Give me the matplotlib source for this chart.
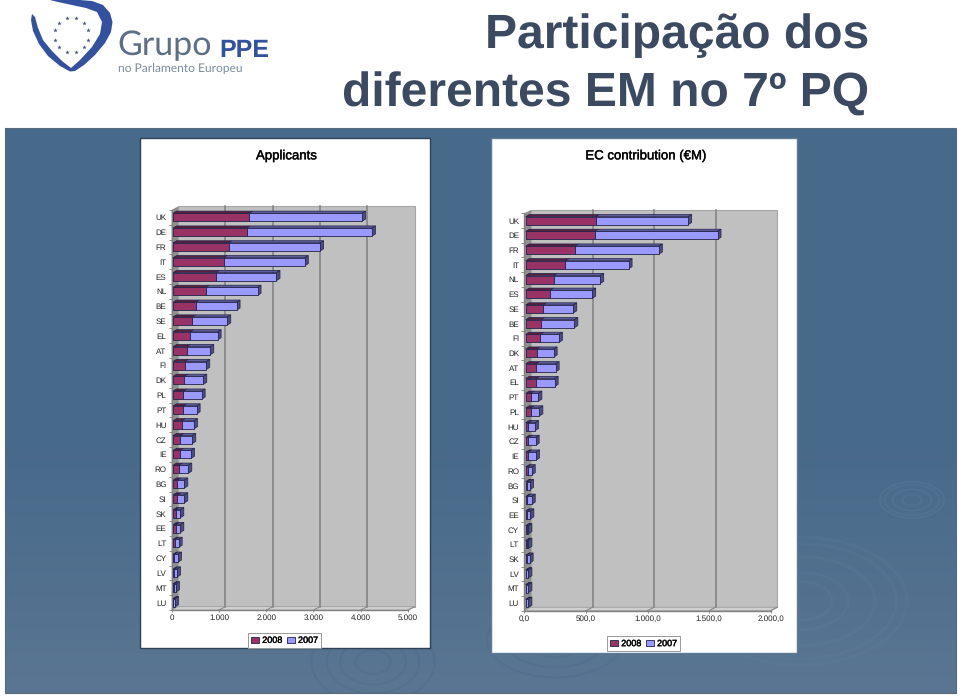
import numpy as np
import matplotlib
matplotlib.use("Agg")
import matplotlib.pyplot as plt
import matplotlib.patheffects as pe
from matplotlib.patches import Rectangle, Polygon, Arc

# ---------- data ----------
app_labels = ["UK","DE","FR","IT","ES","NL","BE","SE","EL","AT","FI","DK","PL","PT","HU","CZ","IE","RO","BG","SI","SK","EE","LT","CY","LV","MT","LU"]
app_2008 = [1613,1556,1176,1070,901,690,479,408,359,289,246,239,218,218,183,148,148,120,92,92,56,56,50,28,28,14,7]
app_2007 = [2387,2655,1937,1719,1289,1099,866,740,585,500,458,402,388,282,261,260,232,204,147,147,99,99,70,78,57,49,35]
app_ticks = [0,1000,2000,3000,4000,5000]
app_ticklabels = ["0","1.000","2.000","3.000","4.000","5.000"]

ec_labels = ["UK","DE","FR","IT","NL","ES","SE","BE","FI","DK","AT","EL","PT","PL","HU","CZ","IE","RO","BG","SI","EE","CY","LT","SK","LV","MT","LU"]
ec_2008 = [568,559,400,322,227,197,140,124,119,89,81,81,40,40,22,22,22,16,13,13,11,8,8,8,6,5,5]
ec_2007 = [751,998,681,513,378,343,246,271,151,138,162,154,63,71,54,59,62,33,22,36,27,14,14,24,16,17,17]
ec_ticks = [0,500,1000,1500,2000]
ec_ticklabels = ["0,0","500,0","1.000,0","1.500,0","2.000,0"]

W, H = 960, 696
FONT = "Liberation Sans"
plt.rcParams["font.family"] = [FONT, "DejaVu Sans"]
plt.rcParams["text.hinting"] = "no_hinting"
plt.rcParams["text.hinting_factor"] = 1
fig = plt.figure(figsize=(W/100, H/100), dpi=100, facecolor="white")
thick = [pe.withStroke(linewidth=0.3, foreground="#111111")]

# ---------- page decoration (pixel coordinates) ----------
bg = fig.add_axes([0, 0, 1, 1], zorder=0)
bg.axis("off")
t = np.linspace(0, 1, 256)
stops = np.array([[0x47, 0x69, 0x8a], [0x47, 0x69, 0x8a], [0x5a, 0x76, 0x92]], float)
img = np.stack([np.interp(t, [0, 0.55, 1], stops[:, k]) for k in range(3)], axis=1)[:, None, :].astype(np.uint8)
bg.imshow(img, extent=[5, 956, 693, 128], aspect="auto", zorder=0)
bg.set_xlim(0, W); bg.set_ylim(H, 0)
panel = Rectangle((5, 128), 951, 565, fc="none", ec="#56697d", lw=0.8, zorder=0.5)
bg.add_patch(panel)

# faint ripples on the background
def ripple(cx, cy, rx, ry, radii, col="#6d8ba6", alpha=0.35, lw=1.6):
    for r in radii:
        arc = Arc((cx, cy), 2*rx*r, 2*ry*r, theta1=0, theta2=360, color=col, alpha=alpha, lw=lw, zorder=0.6)
        bg.add_patch(arc)
        arc.set_clip_path(panel)

ripple(912, 500, 32, 18, [0.3, 0.6, 0.85, 1.0], alpha=0.2, lw=1.2)
ripple(800, 601, 107, 64, [0.3, 0.45, 0.7, 0.9, 1.0], alpha=0.13, lw=2.0)
ripple(373, 662, 44, 30, [0.4, 0.75, 1.05, 1.4], col="#3f6080", alpha=0.18, lw=1.6)
ripple(555, 640, 62, 34, [0.5, 0.8, 1.1], col="#3f6080", alpha=0.16, lw=1.6)

for (x0, x1, y0, y1, edge) in [(140, 430, 138, 648, "#2e4257"), (491, 797, 138, 653, "#5f7a94")]:
    bg.add_patch(Rectangle((x0, y0), x1-x0, y1-y0, fc="white", ec=edge, lw=1.0, zorder=2))

# logo
heart = [(50,0),(62,0),(80,0),(92,1),(103,5),(110,13),(112.5,22),(111,32),(105,43),(95,55),(84,65),(75,71),(70,71.5),
         (60,66),(48,56),(39,44),(33,31),(31,20),(32,14),(35,17),(38,28),(43,40),(52,51),(62,61),(71,68),(80,60),(92,47),
         (100,34),(102,22),(97,12),(86,8),(72,5),(58,2)]
bg.add_patch(Polygon(heart, closed=True, fc="#34519f", ec="none", zorder=3))
ang = np.deg2rad(np.arange(0, 360, 30) + 15)
bg.scatter(71.5 + 17.5*np.cos(ang), 35 + 17.5*np.sin(ang), s=11, marker="*", c="#3b4f78", lw=0, zorder=3)
bg.text(117, 55, "Grupo", family="Lato", fontsize=24.5, color="#5d6f86", ha="left", va="baseline", zorder=3)
bg.text(219, 57, "PPE", family=FONT, weight="bold", fontsize=18, color="#34519f", ha="left", va="baseline", zorder=3)
bg.text(118, 71.5, "no Parlamento Europeu", family="Lato", fontsize=8.7, color="#7b8b9e", ha="left", va="baseline", zorder=3)

# slide title
bg.text(869, 48, "Participação dos", fontsize=34.3, weight="bold", color="#3b4a60", ha="right", va="baseline", zorder=3)
bg.text(869, 107, "diferentes EM no 7º PQ", fontsize=34.3, weight="bold", color="#3b4a60", ha="right", va="baseline", zorder=3)

bg.text(286, 156, "Applicants", fontsize=9.5, color="black", ha="center", va="center", zorder=3, path_effects=thick)
bg.text(645, 156, "EC contribution (€M)", fontsize=9.5, color="black", ha="center", va="center", zorder=3, path_effects=thick)


def chart(labels, v08, v07, ticks, ticklabels, x0, x1, y_first, y_last, xmax, bar_off, wall, legend_xy):
    n = len(labels)
    step = (y_last - y_first) / (n - 1)
    top, bot = y_first - step/2, y_last + step/2
    ax = fig.add_axes([x0/W, 1 - bot/H, (x1-x0)/W, (bot-top)/H], zorder=1)
    ax.patch.set_alpha(0)
    ax.set_xlim(0, xmax); ax.set_ylim(n - 0.5, -0.5)
    ux, uy = xmax/(x1-x0), 1/step           # data units per pixel
    wx, wy = wall[0]*ux, wall[1]*uy         # wall depth
    yb, yt = n - 0.5, -0.5

    ax.add_patch(Rectangle((wx, yt - wy), xmax, n, fc="#c0c0c0", ec="#a6a6a6", lw=0.8, zorder=1, clip_on=False))
    ax.add_patch(Polygon([(0, yt), (wx, yt-wy), (wx, yb-wy), (0, yb)], fc="#8f8f8f", ec="none", zorder=1.1, clip_on=False))
    ax.add_patch(Polygon([(0, yb), (wx, yb-wy), (xmax+wx, yb-wy), (xmax, yb)], fc="#cfcfcf", ec="#a0a0a0", lw=0.6, zorder=1.1, clip_on=False))
    for t in ticks[1:-1]:
        ax.plot([t+wx, t+wx], [yt-wy, yb-wy], color="#7f7f7f", lw=1.1, zorder=1.2, clip_on=False)
    for t in ticks[1:]:
        ax.plot([t, t+wx], [yb, yb-wy], color="#8a8a8a", lw=0.8, zorder=1.2, clip_on=False)

    ys = np.arange(n)
    a = np.array(v08, float); b = np.array(v07, float)
    zero = bar_off * ux
    hgt = 8 * uy
    dx, dy = 3.5*ux, 2.2*uy
    ec = "#22224a"
    c08 = ax.barh(ys, a, left=zero, height=hgt, color="#993366", edgecolor=ec, lw=0.6, zorder=3)
    c07 = ax.barh(ys, b, left=zero + a, height=hgt, color="#9999ff", edgecolor=ec, lw=0.6, zorder=3)
    for y, p, q in zip(ys, a, b):
        ty = y - hgt/2
        s0, s1, s2 = zero, zero + p, zero + p + q
        ax.fill([s0, s0+dx, s1+dx, s1], [ty, ty-dy, ty-dy, ty], fc="#5c1f3d", ec=ec, lw=0.5, zorder=2.9, clip_on=False)
        ax.fill([s1, s1+dx, s2+dx, s2], [ty, ty-dy, ty-dy, ty], fc="#5c5c99", ec=ec, lw=0.5, zorder=2.9, clip_on=False)
        ax.fill([s2, s2+dx, s2+dx, s2], [ty, ty-dy, ty+hgt-dy, ty+hgt], fc="#4d4d80", ec=ec, lw=0.5, zorder=2.9, clip_on=False)

    for s in ["top", "right"]:
        ax.spines[s].set_visible(False)
    for s in ["left", "bottom"]:
        ax.spines[s].set_color("#808080"); ax.spines[s].set_linewidth(1.0); ax.spines[s].set_zorder(2)
    ax.set_yticks(ys, labels)
    ax.set_yticks(np.arange(n+1) - 0.5, minor=True)
    ax.tick_params(axis="y", which="major", length=0, pad=3.8, labelsize=5.9, colors="#222222")
    ax.tick_params(axis="y", which="minor", length=2.2, width=0.6, color="#808080")
    ax.set_xticks(ticks, ticklabels)
    ax.tick_params(axis="x", length=1.6, width=0.6, color="#808080", pad=1.6, labelsize=5.5, labelcolor="#222222")

    leg = ax.legend([c08, c07], ["2008", "2007"], ncol=2, loc="center",
                    bbox_to_anchor=(legend_xy[0]/W, 1 - legend_xy[1]/H), bbox_transform=fig.transFigure,
                    frameon=True, fancybox=False, framealpha=1, edgecolor="#999999",
                    prop={"family": FONT, "size": 6.5}, handlelength=0.9, handleheight=0.6,
                    handletextpad=0.35, columnspacing=0.5, borderpad=0.35, borderaxespad=0)
    leg.get_frame().set_linewidth(0.7)
    leg.set_zorder(5)
    for txt in leg.get_texts():
        txt.set_path_effects(thick)
    return ax


chart(app_labels, app_2008, app_2007, app_ticks, app_ticklabels, 171.7, 408, 217.3, 602.7, 5000, 1.3, (6.5, 3.5), (284.5, 640.5))
chart(ec_labels, ec_2008, ec_2007, ec_ticks, ec_ticklabels, 524.3, 770.7, 220.7, 603.3, 2000, 1.4, (6.7, 3.4), (643.5, 643.8))

fig.savefig("out.png", dpi=100, facecolor="white")
